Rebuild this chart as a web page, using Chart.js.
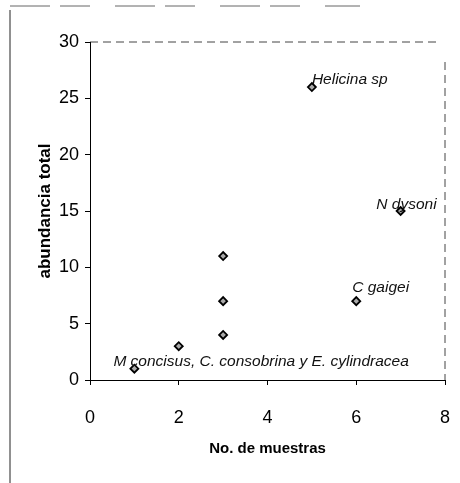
<!DOCTYPE html>
<html>
<head>
<meta charset="utf-8">
<script src="https://cdn.jsdelivr.net/npm/chart.js@4.4.1/dist/chart.umd.min.js"></script>
<style>
  html, body { margin: 0; padding: 0; background: #fff; }
  #wrap { width: 460px; height: 483px; }
</style>
</head>
<body>
<div id="wrap"><canvas id="myScatter"></canvas></div>
<script>
// muestras vs abundancia
var muestras   = [1, 2, 3, 3, 3, 5, 6, 7];
var abundancia = [1, 3, 4, 7, 11, 26, 7, 15];
var etiquetas  = ['M concisus, C. consobrina y E. cylindracea', '', '', '', '', 'Helicina sp', 'C gaigei', 'N dysoni'];
var xTicks = [0, 2, 4, 6, 8];
var yTicks = [0, 5, 10, 15, 20, 25, 30];

var fontFam = '"Liberation Sans", Arial, sans-serif';

// where each name sits relative to its point
var labelPos = {
  0: { dx: -21, dy: -7, align: 'left' },
  5: { dx: 0, dy: -7, align: 'left' },
  6: { dx: -4, dy: -13, align: 'left' },
  7: { dx: 36, dy: -6, align: 'right' }
};

var extras = {
  id: 'extras',
  beforeDraw: function (chart) {
    var c = chart.ctx, a = chart.chartArea;
    c.save();
    // scanned page frame
    c.strokeStyle = '#222';
    c.lineWidth = 1;
    c.beginPath();
    c.moveTo(10, 483);
    c.lineTo(10, 10);
    c.stroke();
    c.setLineDash([40, 10, 30, 25]);
    c.strokeStyle = '#666';
    c.beginPath();
    c.moveTo(10, 6);
    c.lineTo(360, 6);
    c.stroke();
    // plot area top/right edges
    c.setLineDash([8, 5]);
    c.strokeStyle = '#444';
    c.beginPath();
    c.moveTo(a.left, a.top);
    c.lineTo(a.right - 5, a.top);
    c.moveTo(a.right, a.top + 20);
    c.lineTo(a.right, a.bottom);
    c.stroke();
    c.restore();
  },
  afterDatasetsDraw: function (chart) {
    var c = chart.ctx;
    var meta = chart.getDatasetMeta(0);
    c.save();
    c.fillStyle = '#111';
    c.font = 'italic 15.5px ' + fontFam;
    c.textBaseline = 'middle';
    etiquetas.forEach(function (t, i) {
      if (!t) return;
      var p = meta.data[i], o = labelPos[i];
      c.textAlign = o.align;
      c.fillText(t, p.x + o.dx, p.y + o.dy);
    });
    c.restore();
  }
};

var ctx = document.getElementById('myScatter').getContext('2d');
var chart = new Chart(ctx, {
  type: 'scatter',
  data: {
    datasets: [{
      data: muestras.map(function (m, i) { return { x: m, y: abundancia[i] }; }),
      pointStyle: 'rectRot',
      pointRadius: 4,
      backgroundColor: '#aaa',
      borderColor: '#000',
      borderWidth: 1.8
    }]
  },
  options: {
    responsive: true,
    maintainAspectRatio: false,
    animation: false,
    layout: { padding: { left: 35, right: 15, top: 42, bottom: 25 } },
    plugins: { legend: { display: false }, tooltip: { enabled: false } },
    scales: {
      x: {
        type: 'linear', min: 0, max: 8,
        afterBuildTicks: function (s) { s.ticks = xTicks.map(function (v) { return { value: v }; }); },
        afterFit: function (s) { s.height = 78; s.paddingRight = 0; s.paddingLeft = 0; },
        border: { color: '#000', width: 1 },
        grid: { drawOnChartArea: false, tickLength: 5, color: '#000' },
        ticks: { color: '#000', padding: 22, font: { family: fontFam, size: 18 } },
        title: { display: true, text: 'No. de muestras', color: '#000',
                 font: { family: fontFam, size: 15, weight: 'bold' }, padding: 0 }
      },
      y: {
        min: 0, max: 30,
        afterBuildTicks: function (s) { s.ticks = yTicks.map(function (v) { return { value: v }; }); },
        afterFit: function (s) { s.width = 55; },
        border: { color: '#000', width: 1 },
        grid: { drawOnChartArea: false, tickLength: 5, color: '#000' },
        ticks: { color: '#000', padding: 6, font: { family: fontFam, size: 18 } },
        title: { display: true, text: 'abundancia total', color: '#000',
                 font: { family: fontFam, size: 17, weight: 'bold' }, padding: 0 }
      }
    }
  },
  plugins: [extras]
});
</script>
</body>
</html>
